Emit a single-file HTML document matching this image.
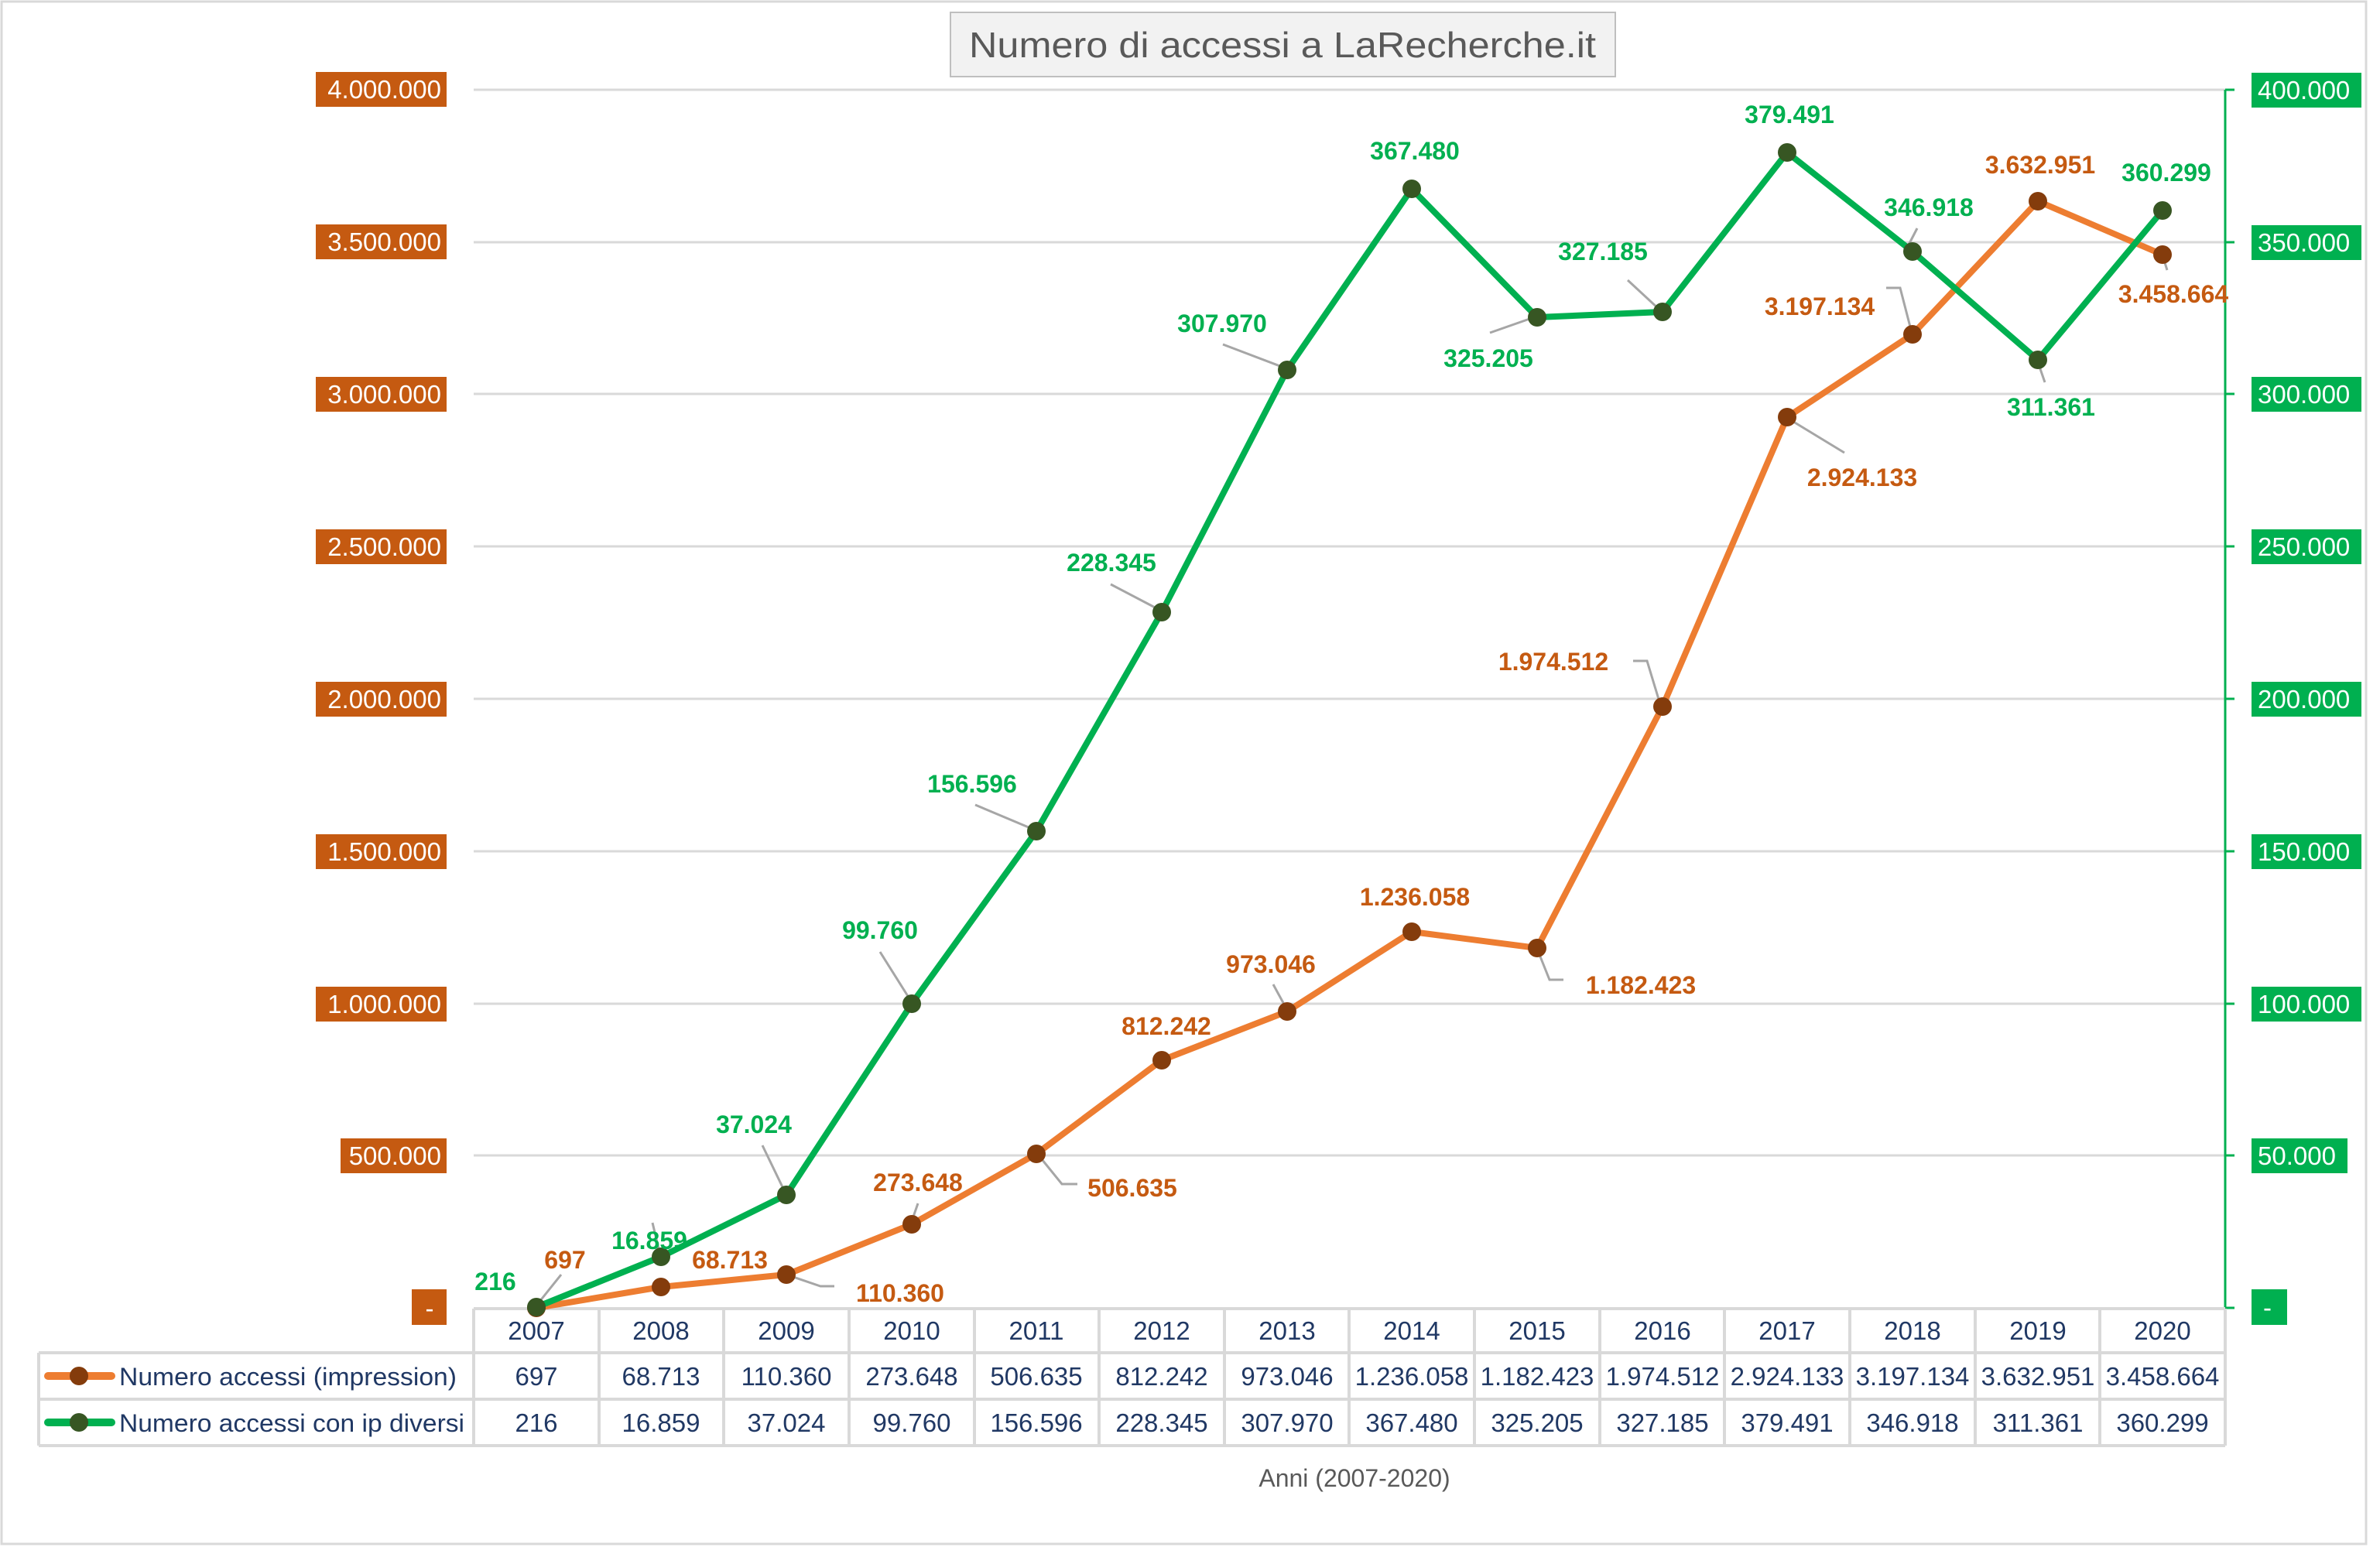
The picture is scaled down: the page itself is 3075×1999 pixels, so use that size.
<!DOCTYPE html>
<html><head><meta charset="utf-8"><style>
html,body{margin:0;padding:0;background:#fff}
svg{display:block}
text{font-family:"Liberation Sans",sans-serif}
</style></head><body>
<svg width="3075" height="1999" viewBox="0 0 3075 1999" xmlns="http://www.w3.org/2000/svg">
<rect x="2" y="2" width="3055" height="1993" fill="#fff" stroke="#d9d9d9" stroke-width="3"/>
<rect x="1228" y="16" width="859" height="83" fill="#f2f2f2" stroke="#bfbfbf" stroke-width="2"/>
<text x="1657" y="74" font-size="46" fill="#595959" text-anchor="middle" textLength="810" lengthAdjust="spacingAndGlyphs">Numero di accessi a LaRecherche.it</text>
<g stroke="#d9d9d9" stroke-width="3">
<line x1="612" y1="116" x2="2875" y2="116"/>
<line x1="612" y1="313" x2="2875" y2="313"/>
<line x1="612" y1="509" x2="2875" y2="509"/>
<line x1="612" y1="706" x2="2875" y2="706"/>
<line x1="612" y1="903" x2="2875" y2="903"/>
<line x1="612" y1="1100" x2="2875" y2="1100"/>
<line x1="612" y1="1297" x2="2875" y2="1297"/>
<line x1="612" y1="1493" x2="2875" y2="1493"/>
</g>
<g stroke="#00b050" stroke-width="3">
<line x1="2875" y1="116" x2="2875" y2="1690"/>
<line x1="2875" y1="116" x2="2887" y2="116"/>
<line x1="2875" y1="313" x2="2887" y2="313"/>
<line x1="2875" y1="509" x2="2887" y2="509"/>
<line x1="2875" y1="706" x2="2887" y2="706"/>
<line x1="2875" y1="903" x2="2887" y2="903"/>
<line x1="2875" y1="1100" x2="2887" y2="1100"/>
<line x1="2875" y1="1297" x2="2887" y2="1297"/>
<line x1="2875" y1="1493" x2="2887" y2="1493"/>
<line x1="2875" y1="1690" x2="2887" y2="1690"/>
</g>
<g fill="#c55a11">
<rect x="408" y="93" width="169" height="45"/>
<rect x="408" y="290" width="169" height="45"/>
<rect x="408" y="487" width="169" height="45"/>
<rect x="408" y="684" width="169" height="45"/>
<rect x="408" y="881" width="169" height="45"/>
<rect x="408" y="1078" width="169" height="45"/>
<rect x="408" y="1275" width="169" height="45"/>
<rect x="440" y="1471" width="137" height="45"/>
<rect x="532" y="1666" width="45" height="46"/>
</g>
<g fill="#fff" font-size="33" text-anchor="end">
<text x="570" y="127">4.000.000</text>
<text x="570" y="324">3.500.000</text>
<text x="570" y="521">3.000.000</text>
<text x="570" y="718">2.500.000</text>
<text x="570" y="915">2.000.000</text>
<text x="570" y="1112">1.500.000</text>
<text x="570" y="1309">1.000.000</text>
<text x="570" y="1505">500.000</text>
<text x="555" y="1702" text-anchor="middle">-</text>
</g>
<g fill="#00b050">
<rect x="2909" y="94" width="142" height="45"/>
<rect x="2909" y="291" width="142" height="45"/>
<rect x="2909" y="487" width="142" height="45"/>
<rect x="2909" y="684" width="142" height="45"/>
<rect x="2909" y="881" width="142" height="45"/>
<rect x="2909" y="1078" width="142" height="45"/>
<rect x="2909" y="1275" width="142" height="45"/>
<rect x="2909" y="1471" width="124" height="45"/>
<rect x="2909" y="1666" width="46" height="46"/>
</g>
<g fill="#fff" font-size="33">
<text x="2917" y="128">400.000</text>
<text x="2917" y="325">350.000</text>
<text x="2917" y="521">300.000</text>
<text x="2917" y="718">250.000</text>
<text x="2917" y="915">200.000</text>
<text x="2917" y="1112">150.000</text>
<text x="2917" y="1309">100.000</text>
<text x="2917" y="1505">50.000</text>
<text x="2924" y="1701">-</text>
</g>
<g stroke="#d9d9d9" stroke-width="4" fill="none">
<line x1="612" y1="1691" x2="2875" y2="1691"/>
<line x1="50" y1="1748" x2="2875" y2="1748"/>
<line x1="50" y1="1808" x2="2875" y2="1808"/>
<line x1="50" y1="1868" x2="2875" y2="1868"/>
<line x1="50" y1="1748" x2="50" y2="1868"/>
<line x1="612" y1="1691" x2="612" y2="1868"/>
<line x1="774" y1="1691" x2="774" y2="1868"/>
<line x1="935" y1="1691" x2="935" y2="1868"/>
<line x1="1097" y1="1691" x2="1097" y2="1868"/>
<line x1="1259" y1="1691" x2="1259" y2="1868"/>
<line x1="1420" y1="1691" x2="1420" y2="1868"/>
<line x1="1582" y1="1691" x2="1582" y2="1868"/>
<line x1="1743" y1="1691" x2="1743" y2="1868"/>
<line x1="1905" y1="1691" x2="1905" y2="1868"/>
<line x1="2067" y1="1691" x2="2067" y2="1868"/>
<line x1="2228" y1="1691" x2="2228" y2="1868"/>
<line x1="2390" y1="1691" x2="2390" y2="1868"/>
<line x1="2552" y1="1691" x2="2552" y2="1868"/>
<line x1="2713" y1="1691" x2="2713" y2="1868"/>
<line x1="2875" y1="1691" x2="2875" y2="1868"/>
</g>
<g font-size="33" fill="#203864" text-anchor="middle">
<text x="693" y="1731">2007</text><text x="854" y="1731">2008</text><text x="1016" y="1731">2009</text><text x="1178" y="1731">2010</text><text x="1339" y="1731">2011</text><text x="1501" y="1731">2012</text><text x="1663" y="1731">2013</text><text x="1824" y="1731">2014</text><text x="1986" y="1731">2015</text><text x="2148" y="1731">2016</text><text x="2309" y="1731">2017</text><text x="2471" y="1731">2018</text><text x="2633" y="1731">2019</text><text x="2794" y="1731">2020</text>
<text x="693" y="1790">697</text><text x="854" y="1790">68.713</text><text x="1016" y="1790">110.360</text><text x="1178" y="1790">273.648</text><text x="1339" y="1790">506.635</text><text x="1501" y="1790">812.242</text><text x="1663" y="1790">973.046</text><text x="1824" y="1790">1.236.058</text><text x="1986" y="1790">1.182.423</text><text x="2148" y="1790">1.974.512</text><text x="2309" y="1790">2.924.133</text><text x="2471" y="1790">3.197.134</text><text x="2633" y="1790">3.632.951</text><text x="2794" y="1790">3.458.664</text>
<text x="693" y="1850">216</text><text x="854" y="1850">16.859</text><text x="1016" y="1850">37.024</text><text x="1178" y="1850">99.760</text><text x="1339" y="1850">156.596</text><text x="1501" y="1850">228.345</text><text x="1663" y="1850">307.970</text><text x="1824" y="1850">367.480</text><text x="1986" y="1850">325.205</text><text x="2148" y="1850">327.185</text><text x="2309" y="1850">379.491</text><text x="2471" y="1850">346.918</text><text x="2633" y="1850">311.361</text><text x="2794" y="1850">360.299</text>
</g>
<line x1="62" y1="1778" x2="144" y2="1778" stroke="#ed7d31" stroke-width="10" stroke-linecap="round"/>
<circle cx="102" cy="1778" r="12" fill="#843c0c"/>
<line x1="62" y1="1838" x2="144" y2="1838" stroke="#00b050" stroke-width="10" stroke-linecap="round"/>
<circle cx="102" cy="1838" r="12" fill="#375623"/>
<g font-size="32" fill="#203864">
<text x="154" y="1790" textLength="436" lengthAdjust="spacingAndGlyphs">Numero accessi (impression)</text>
<text x="154" y="1850" textLength="446" lengthAdjust="spacingAndGlyphs">Numero accessi con ip diversi</text>
</g>
<text x="1750" y="1921" font-size="32" fill="#595959" text-anchor="middle">Anni (2007-2020)</text>
<g stroke="#a6a6a6" stroke-width="3" fill="none">
<line x1="693" y1="1687" x2="725" y2="1647"/>
<line x1="853" y1="1622" x2="843" y2="1580"/>
<line x1="1014" y1="1540" x2="985" y2="1480"/>
<line x1="1176" y1="1292" x2="1137" y2="1230"/>
<line x1="1336" y1="1072" x2="1260" y2="1040"/>
<line x1="1498" y1="788" x2="1435" y2="755"/>
<line x1="1659" y1="475" x2="1580" y2="445"/>
<line x1="1982" y1="410" x2="1925" y2="430"/>
<line x1="2144" y1="400" x2="2103" y2="362"/>
<line x1="2461" y1="326" x2="2477" y2="295"/>
<line x1="2633" y1="468" x2="2642" y2="494"/>
<line x1="2794" y1="330" x2="2800" y2="349"/>
<polyline points="1016,1647 1060,1662 1078,1662"/>
<line x1="1178" y1="1578" x2="1186" y2="1555"/>
<polyline points="1342,1493 1372,1530 1392,1530"/>
<line x1="1663" y1="1305" x2="1645" y2="1272"/>
<polyline points="1986,1226 2002,1266 2020,1266"/>
<polyline points="2145,910 2128,854 2110,854"/>
<line x1="2309" y1="540" x2="2383" y2="585"/>
<polyline points="2470,430 2455,372 2437,372"/>
</g>
<polyline fill="none" stroke="#ed7d31" stroke-width="8" stroke-linejoin="round" points="693,1690 854,1663 1016,1647 1178,1582 1339,1491 1501,1370 1663,1307 1824,1204 1986,1225 2148,913 2309,539 2471,432 2633,260 2794,329"/>
<polyline fill="none" stroke="#00b050" stroke-width="8" stroke-linejoin="round" points="693,1689 854,1624 1016,1544 1178,1297 1339,1074 1501,791 1663,478 1824,244 1986,410 2148,403 2309,197 2471,325 2633,465 2794,272"/>
<g fill="#843c0c">
<circle cx="693" cy="1690" r="12"/><circle cx="854" cy="1663" r="12"/><circle cx="1016" cy="1647" r="12"/><circle cx="1178" cy="1582" r="12"/><circle cx="1339" cy="1491" r="12"/><circle cx="1501" cy="1370" r="12"/><circle cx="1663" cy="1307" r="12"/><circle cx="1824" cy="1204" r="12"/><circle cx="1986" cy="1225" r="12"/><circle cx="2148" cy="913" r="12"/><circle cx="2309" cy="539" r="12"/><circle cx="2471" cy="432" r="12"/><circle cx="2633" cy="260" r="12"/><circle cx="2794" cy="329" r="12"/>
</g>
<g fill="#375623">
<circle cx="693" cy="1689" r="12"/><circle cx="854" cy="1624" r="12"/><circle cx="1016" cy="1544" r="12"/><circle cx="1178" cy="1297" r="12"/><circle cx="1339" cy="1074" r="12"/><circle cx="1501" cy="791" r="12"/><circle cx="1663" cy="478" r="12"/><circle cx="1824" cy="244" r="12"/><circle cx="1986" cy="410" r="12"/><circle cx="2148" cy="403" r="12"/><circle cx="2309" cy="197" r="12"/><circle cx="2471" cy="325" r="12"/><circle cx="2633" cy="465" r="12"/><circle cx="2794" cy="272" r="12"/>
</g>
<g font-size="32" font-weight="bold" fill="#00b050" text-anchor="middle">
<text x="640" y="1667">216</text>
<text x="839" y="1614">16.859</text>
<text x="974" y="1464">37.024</text>
<text x="1137" y="1213">99.760</text>
<text x="1256" y="1024">156.596</text>
<text x="1436" y="738">228.345</text>
<text x="1579" y="429">307.970</text>
<text x="1828" y="206">367.480</text>
<text x="1923" y="474">325.205</text>
<text x="2071" y="336">327.185</text>
<text x="2312" y="159">379.491</text>
<text x="2492" y="279">346.918</text>
<text x="2650" y="537">311.361</text>
<text x="2799" y="234">360.299</text>
</g>
<g font-size="32" font-weight="bold" fill="#c55a11" text-anchor="middle">
<text x="730" y="1639">697</text>
<text x="943" y="1639">68.713</text>
<text x="1163" y="1682">110.360</text>
<text x="1186" y="1539">273.648</text>
<text x="1463" y="1546">506.635</text>
<text x="1507" y="1337">812.242</text>
<text x="1642" y="1257">973.046</text>
<text x="1828" y="1170">1.236.058</text>
<text x="2120" y="1284">1.182.423</text>
<text x="2007" y="866">1.974.512</text>
<text x="2406" y="628">2.924.133</text>
<text x="2351" y="407">3.197.134</text>
<text x="2636" y="224">3.632.951</text>
<text x="2808" y="391">3.458.664</text>
</g>
</svg>
</body></html>
